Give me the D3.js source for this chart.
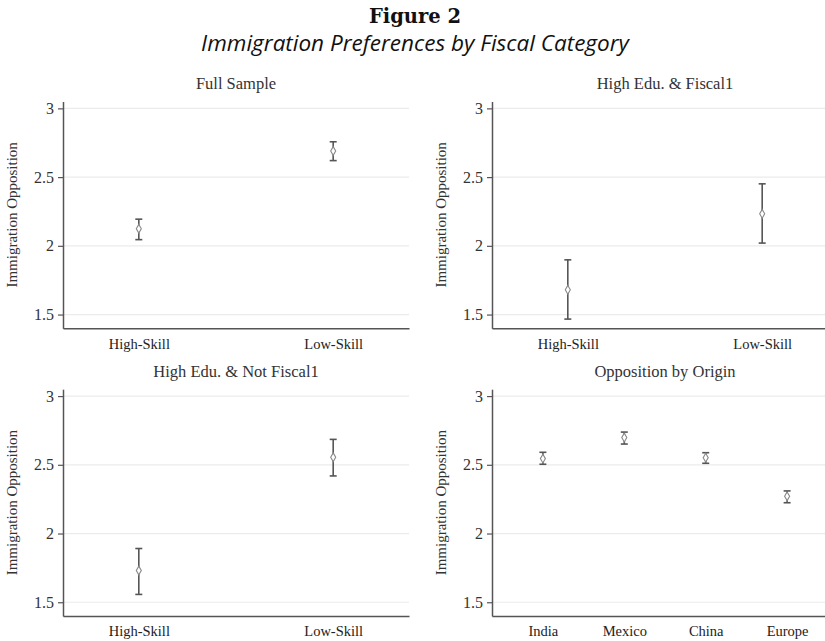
<!DOCTYPE html>
<html>
<head>
<meta charset="utf-8">
<script src="https://cdn.jsdelivr.net/npm/d3@7"></script>
<style>
  html, body { margin: 0; padding: 0; background: #fff; }
  svg { display: block; }
</style>
</head>
<body>
<svg id="fig" width="825" height="641"></svg>
<script>
// Mean immigration opposition with 95% confidence intervals, by group
const skillCats = ["High-Skill", "Low-Skill"];
const originCats = ["India", "Mexico", "China", "Europe"];
const yTicks = [1.5, 2, 2.5, 3];

const fullMean = [2.124, 2.69];
const fullLow  = [2.045, 2.62];
const fullHigh = [2.194, 2.757];

const fiscalMean = [1.68, 2.233];
const fiscalLow  = [1.467, 2.02];
const fiscalHigh = [1.898, 2.451];

const notFiscalMean = [1.731, 2.555];
const notFiscalLow  = [1.557, 2.419];
const notFiscalHigh = [1.891, 2.685];

const originMean = [2.545, 2.698, 2.552, 2.271];
const originLow  = [2.504, 2.651, 2.511, 2.224];
const originHigh = [2.591, 2.738, 2.588, 2.31];

const panelTitles = ["Full Sample", "High Edu. & Fiscal1", "High Edu. & Not Fiscal1", "Opposition by Origin"];
const yLabel = "Immigration Opposition";

const svg = d3.select("#fig");
const serif = "'Liberation Serif', 'Times New Roman', serif";

// Figure heading
svg.append("text")
  .attr("x", 415).attr("y", 23)
  .attr("text-anchor", "middle")
  .attr("font-family", "'DejaVu Serif', serif")
  .attr("font-weight", "bold")
  .attr("font-size", 19.5)
  .attr("fill", "#111")
  .text("Figure 2");

svg.append("text")
  .attr("x", 415).attr("y", 51)
  .attr("text-anchor", "middle")
  .attr("font-family", "'Open Sans', sans-serif")
  .attr("font-style", "italic")
  .attr("font-size", 22.5)
  .attr("fill", "#111")
  .text("Immigration Preferences by Fiscal Category");

const panels = [
  { title: panelTitles[0], cats: skillCats, mean: fullMean, lo: fullLow, hi: fullHigh, x0: 63, y0: 101.5, y1: 328.3, pad: 0.39 },
  { title: panelTitles[1], cats: skillCats, mean: fiscalMean, lo: fiscalLow, hi: fiscalHigh, x0: 492, y0: 101.5, y1: 328.3, pad: 0.39 },
  { title: panelTitles[2], cats: skillCats, mean: notFiscalMean, lo: notFiscalLow, hi: notFiscalHigh, x0: 63, y0: 389.2, y1: 616, pad: 0.39 },
  { title: panelTitles[3], cats: originCats, mean: originMean, lo: originLow, hi: originHigh, x0: 492, y0: 389.2, y1: 616, pad: 0.625 }
];
const plotW = 346;

panels.forEach(p => {
  const g = svg.append("g");
  const x = d3.scalePoint().domain(p.cats).range([p.x0, p.x0 + plotW]).padding(p.pad);
  const y = d3.scaleLinear().domain([1.4, 3.05]).range([p.y1, p.y0]);

  // horizontal grid lines
  g.selectAll("line.grid").data(yTicks).join("line")
    .attr("class", "grid")
    .attr("x1", p.x0 + 1).attr("x2", p.x0 + plotW)
    .attr("y1", d => y(d)).attr("y2", d => y(d))
    .attr("stroke", "#ebebeb").attr("stroke-width", 1.2);

  // y axis
  const ya = g.append("g")
    .attr("transform", `translate(${p.x0},0)`)
    .call(d3.axisLeft(y).tickValues(yTicks).tickSize(5).tickPadding(4)
      .tickFormat(d => d3.format("")(d)).tickSizeOuter(0));
  ya.select(".domain").attr("stroke", "#555").attr("stroke-width", 1.5);
  ya.selectAll(".tick line").attr("stroke", "#555").attr("stroke-width", 1.2);
  ya.selectAll(".tick text").attr("font-family", serif).attr("font-size", 16).attr("fill", "#333");

  // x axis
  const xa = g.append("g")
    .attr("transform", `translate(0,${p.y1})`)
    .call(d3.axisBottom(x).tickSize(0).tickPadding(10).tickSizeOuter(0));
  xa.select(".domain").attr("stroke", "#555").attr("stroke-width", 1.5);
  xa.selectAll(".tick text").attr("font-family", serif).attr("font-size", 14.5).attr("fill", "#222");

  // panel title
  g.append("text")
    .attr("x", p.x0 + plotW / 2).attr("y", y(3) - 19)
    .attr("text-anchor", "middle")
    .attr("font-family", serif).attr("font-size", 16.5).attr("fill", "#333")
    .text(p.title);

  // y axis title
  g.append("text")
    .attr("transform", `translate(${p.x0 - 46},${(p.y0 + p.y1) / 2}) rotate(-90)`)
    .attr("text-anchor", "middle")
    .attr("font-family", serif).attr("font-size", 15).attr("fill", "#333")
    .text(yLabel);

  const rows = p.cats.map((c, i) => ({ c, m: p.mean[i], lo: p.lo[i], hi: p.hi[i] }));

  // confidence interval bars with caps
  const bars = g.selectAll("g.ci").data(rows).join("g").attr("class", "ci")
    .attr("stroke", "#555").attr("stroke-width", 1.6);
  bars.append("line")
    .attr("x1", d => x(d.c)).attr("x2", d => x(d.c))
    .attr("y1", d => y(d.lo)).attr("y2", d => y(d.hi));
  bars.append("line")
    .attr("x1", d => x(d.c) - 3.5).attr("x2", d => x(d.c) + 3.5)
    .attr("y1", d => y(d.hi)).attr("y2", d => y(d.hi));
  bars.append("line")
    .attr("x1", d => x(d.c) - 3.5).attr("x2", d => x(d.c) + 3.5)
    .attr("y1", d => y(d.lo)).attr("y2", d => y(d.lo));

  // point estimates
  g.selectAll("path.pt").data(rows).join("path")
    .attr("class", "pt")
    .attr("d", d3.symbol(d3.symbolDiamond, 22))
    .attr("transform", d => `translate(${x(d.c)},${y(d.m)})`)
    .attr("fill", "#fff").attr("stroke", "#888").attr("stroke-width", 1.1);
});
</script>
</body>
</html>
